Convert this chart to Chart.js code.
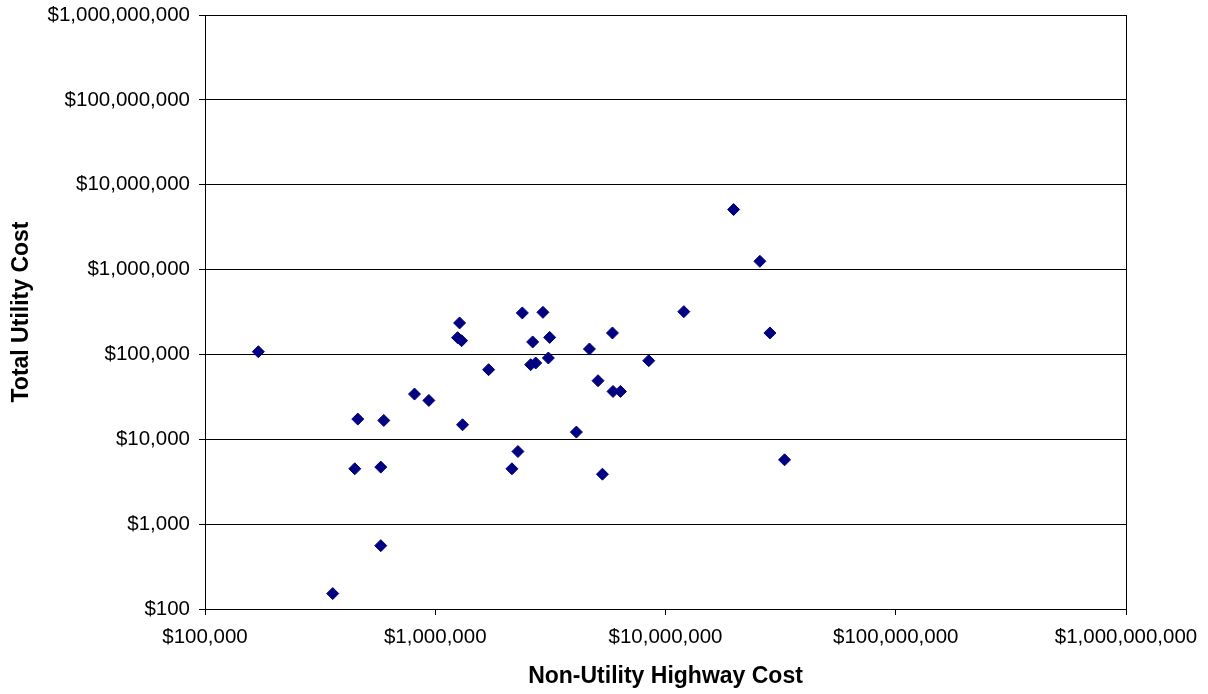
<!DOCTYPE html>
<html>
<head>
<meta charset="utf-8">
<script src="https://cdn.jsdelivr.net/npm/chart.js@4/dist/chart.umd.min.js"></script>
<style>
  body { margin: 0; background: #ffffff; }
  #wrap { width: 1208px; height: 694px; }
</style>
</head>
<body>
<div id="wrap"><canvas id="chart" width="1208" height="694"></canvas></div>
<script>
// Non-utility highway cost (x) vs total utility cost (y)
const highwayCost = [
    170500, 358700, 447200, 460900, 580000, 580000, 597700, 812800, 938000,
    1275500, 1250000, 1301000, 1314000, 1705000, 2153000, 2286000, 2389000,
    2596000, 2649000, 2731000, 2936000, 3099000, 3140000, 4102000, 4673000,
    5093000, 5322000, 5884000, 5917000, 6373000, 8457000, 12010000,
    19760000, 25700000, 28410000, 32890000
];
const utilityCost = [
    107600, 152, 4490, 17300, 4700, 558, 16670, 34100, 28700,
    235000, 157600, 145200, 14830, 66100, 4490, 7180, 308300,
    75700, 140300, 79250, 313300, 90800, 158800, 12160, 115900,
    49000, 3880, 179000, 36640, 36640, 84350, 319400,
    5100000, 1252000, 179000, 5730
];

const xTicks = [1e5, 1e6, 1e7, 1e8, 1e9];
const yTicks = [1e2, 1e3, 1e4, 1e5, 1e6, 1e7, 1e8, 1e9];

const points = highwayCost.map((x, i) => ({ x: x, y: utilityCost[i] }));

const FONT = 'Arial, "Liberation Sans", sans-serif';
const money = v => '$' + Number(v).toLocaleString('en-US');

// frame around the plot area (top and right edges)
const frame = {
    id: 'frame',
    afterDraw(chart) {
        const a = chart.chartArea;
        const ctx = chart.ctx;
        ctx.save();
        ctx.strokeStyle = '#000000';
        ctx.lineWidth = 1;
        ctx.strokeRect(Math.round(a.left) + 0.5, Math.round(a.top) + 0.5,
            Math.round(a.right - a.left), Math.round(a.bottom - a.top));
        ctx.restore();
    }
};

new Chart(document.getElementById('chart'), {
    type: 'scatter',
    data: {
        datasets: [{
            data: points,
            backgroundColor: '#000080',
            borderColor: '#000080',
            borderWidth: 1,
            pointStyle: 'rectRot',
            pointRadius: 6,
            pointHoverRadius: 6
        }]
    },
    options: {
        responsive: false,
        animation: false,
        layout: { padding: { left: 0, top: 15, right: 82, bottom: 0 } },
        plugins: {
            legend: { display: false },
            tooltip: { enabled: false }
        },
        scales: {
            x: {
                type: 'logarithmic',
                min: 1e5,
                max: 1e9,
                afterBuildTicks: s => { s.ticks = xTicks.map(v => ({ value: v })); },
                afterFit: s => { s.height = 85; },
                grid: { drawOnChartArea: false, drawTicks: true, tickLength: 6, color: '#000000' },
                border: { display: true, color: '#000000', width: 1 },
                ticks: {
                    autoSkip: false,
                    maxRotation: 0,
                    padding: 10,
                    color: '#000000',
                    font: { family: FONT, size: 20.5 },
                    callback: v => money(v)
                },
                title: {
                    display: true,
                    text: 'Non-Utility Highway Cost',
                    color: '#000000',
                    font: { family: FONT, size: 23, weight: 'bold' },
                    padding: { top: 0, bottom: 4 }
                }
            },
            y: {
                type: 'logarithmic',
                min: 100,
                max: 1e9,
                afterBuildTicks: s => { s.ticks = yTicks.map(v => ({ value: v })); },
                afterFit: s => { s.width = 205; s.paddingTop = 0; s.paddingBottom = 0; },
                grid: { drawOnChartArea: true, drawTicks: true, tickLength: 6, color: '#000000', lineWidth: 1 },
                border: { display: true, color: '#000000', width: 1 },
                ticks: {
                    autoSkip: false,
                    padding: 9,
                    color: '#000000',
                    font: { family: FONT, size: 20.5 },
                    callback: v => money(v)
                },
                title: {
                    display: true,
                    text: 'Total Utility Cost',
                    color: '#000000',
                    font: { family: FONT, size: 23, weight: 'bold' },
                    padding: { top: 8, bottom: 0 }
                }
            }
        }
    },
    plugins: [frame]
});
</script>
</body>
</html>
